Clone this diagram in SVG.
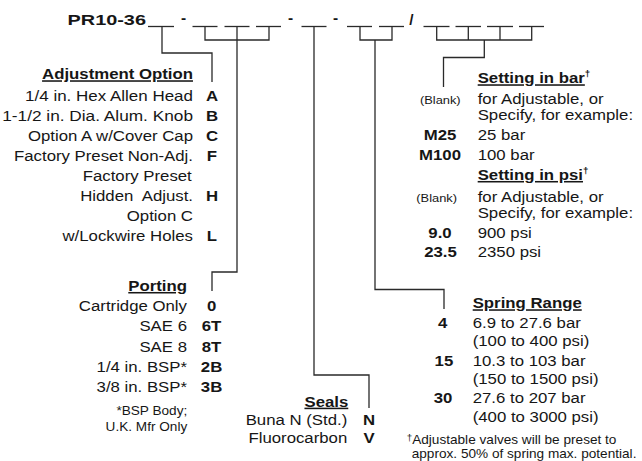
<svg xmlns="http://www.w3.org/2000/svg" width="642" height="461" viewBox="0 0 642 461">
<style>
text{font-family:"Liberation Sans",Arial,Helvetica,sans-serif;fill:#161616;font-size:15.4px}
.b{font-weight:bold}
.u{text-decoration:underline}
.r{text-anchor:end}
.m{text-anchor:middle}
.s{font-size:11.8px}
.f{font-size:12.5px}
.sup{font-size:9px}
.ln{fill:none;stroke:#2a2a2a;stroke-width:1.3}
.bl{stroke:#2a2a2a;stroke-width:1.3}
</style>
<rect width="642" height="461" fill="#fff"/>

<g id="model-code">
<text class="b" x="67.5" y="24.5" font-size="17.5" textLength="78.5" lengthAdjust="spacingAndGlyphs">PR10-36</text>
<text class="b m" x="183.5" y="22.5" font-size="16">-</text>
<text class="b m" x="290.5" y="22.5" font-size="16">-</text>
<text class="b m" x="335.5" y="22.5" font-size="16">-</text>
<text class="b m" x="411.5" y="25" font-size="17">/</text>
<g class="bl">
<line x1="148" y1="26.5" x2="174" y2="26.5"/>
<line x1="192.5" y1="26.5" x2="217.5" y2="26.5"/>
<line x1="224.5" y1="26.5" x2="249.5" y2="26.5"/>
<line x1="256" y1="26.5" x2="281" y2="26.5"/>
<line x1="301.5" y1="26.5" x2="326.5" y2="26.5"/>
<line x1="347" y1="26.5" x2="372" y2="26.5"/>
<line x1="379" y1="26.5" x2="404" y2="26.5"/>
<line x1="423.5" y1="26.5" x2="449.5" y2="26.5"/>
<line x1="455.5" y1="26.5" x2="481" y2="26.5"/>
<line x1="487" y1="26.5" x2="513" y2="26.5"/>
<line x1="519" y1="26.5" x2="544" y2="26.5"/>
</g>
</g>

<g id="connectors" class="ln">
<path d="M162,26.5 V53 H212 V82"/>
<path d="M205,26.5 V40 H269 V26.5 M237,26.5 V272 H212 V291"/>
<path d="M314,26.5 V375 H369 V408"/>
<path d="M360,26.5 V40 H392 V26.5 M375,40 V289.5 H444 V309"/>
<path d="M436.7,26.5 V40 H531.7 V26.5 M468.3,26.5 V40 M500,26.5 V40 M484.3,40 V57.5 H443.5 V87"/>
</g>

<g id="adjustment-option" transform="scale(1.09 1)">
<text class="b u r" x="177.06" y="79.3">Adjustment Option</text>
<text class="r" x="177.06" y="101.5" textLength="154" lengthAdjust="spacingAndGlyphs">1/4 in. Hex Allen Head</text>
<text class="r" x="177.06" y="121.5" textLength="175" lengthAdjust="spacingAndGlyphs">1-1/2 in. Dia. Alum. Knob</text>
<text class="r" x="177.06" y="141.5">Option A w/Cover Cap</text>
<text class="r" x="177.06" y="161.5">Factory Preset Non-Adj.</text>
<text class="r" x="175.96" y="181.3">Factory Preset</text>
<text class="r" x="177.06" y="201.5" xml:space="preserve">Hidden  Adjust.</text>
<text class="r" x="177.06" y="221.5">Option C</text>
<text class="r" x="177.06" y="241.5">w/Lockwire Holes</text>
<text class="b m" x="194.5" y="101.5">A</text>
<text class="b m" x="194.5" y="121.5">B</text>
<text class="b m" x="194.5" y="141.5">C</text>
<text class="b m" x="194.5" y="161.5">F</text>
<text class="b m" x="194.5" y="201.5">H</text>
<text class="b m" x="194.5" y="241.5">L</text>
</g>

<g id="porting" transform="scale(1.09 1)">
<text class="b u r" x="171.56" y="291">Porting</text>
<text class="r" x="171.56" y="311">Cartridge Only</text>
<text class="r" x="171.56" y="331.5">SAE 6</text>
<text class="r" x="171.56" y="351.7">SAE 8</text>
<text class="r" x="171.56" y="372.2">1/4 in. BSP*</text>
<text class="r" x="171.56" y="392.3">3/8 in. BSP*</text>
<text class="b m" x="194.1" y="311">0</text>
<text class="b m" x="194.1" y="331.5">6T</text>
<text class="b m" x="194.1" y="351.7">8T</text>
<text class="b m" x="194.1" y="372.2">2B</text>
<text class="b m" x="194.1" y="392.3">3B</text>
<text class="f r" x="171.83" y="415">*BSP Body;</text>
<text class="f r" x="171.83" y="430.7">U.K. Mfr Only</text>
</g>

<g id="seals" transform="scale(1.09 1)">
<text class="b u r" x="319.54" y="406.7">Seals</text>
<text class="r" x="318.6" y="425">Buna N (Std.)</text>
<text class="r" x="318.6" y="443.3">Fluorocarbon</text>
<text class="b m" x="338.53" y="425">N</text>
<text class="b m" x="338.53" y="443.3">V</text>
</g>

<g id="setting" transform="scale(1.09 1)">
<text class="b" x="438.26" y="83.3"><tspan class="u">Setting in bar</tspan><tspan class="sup" dy="-6">†</tspan></text>
<text class="s m" x="403.94" y="104">(Blank)</text>
<text x="438.26" y="104">for Adjustable, or</text>
<text x="438.26" y="120">Specify, for example:</text>
<text class="b m" x="403.67" y="140">M25</text>
<text x="438.26" y="140">25 bar</text>
<text class="b m" x="403.67" y="160">M100</text>
<text x="438.26" y="160">100 bar</text>
<text class="b" x="438.26" y="180"><tspan class="u">Setting in psi</tspan><tspan class="sup" dy="-6">†</tspan></text>
<text class="s m" x="400.64" y="201.7">(Blank)</text>
<text x="438.26" y="201.7">for Adjustable, or</text>
<text x="438.26" y="218.3">Specify, for example:</text>
<text class="b m" x="403.67" y="238.3">9.0</text>
<text x="438.26" y="238.3">900 psi</text>
<text class="b m" x="404.13" y="256.7">23.5</text>
<text x="438.26" y="256.7">2350 psi</text>
</g>

<g id="spring-range" transform="scale(1.09 1)">
<text class="b u" x="433.67" y="308.3">Spring Range</text>
<text class="b m" x="406.1" y="327.7">4</text>
<text x="433.67" y="327.7">6.9 to 27.6 bar</text>
<text x="433.67" y="346">(100 to 400 psi)</text>
<text class="b m" x="407.3" y="366">15</text>
<text x="433.67" y="366">10.3 to 103 bar</text>
<text x="433.67" y="384">(150 to 1500 psi)</text>
<text class="b m" x="406.4" y="403.3">30</text>
<text x="433.67" y="403.3">27.6 to 207 bar</text>
<text x="433.67" y="421.7">(400 to 3000 psi)</text>
</g>

<g id="footnote" transform="scale(1.09 1)">
<text class="f" x="373.12" y="444"><tspan class="sup" dy="-3">†</tspan><tspan dy="3">Adjustable valves will be preset to</tspan></text>
<text class="f" x="377.71" y="458">approx. 50% of spring max. potential.</text>
</g>
</svg>
